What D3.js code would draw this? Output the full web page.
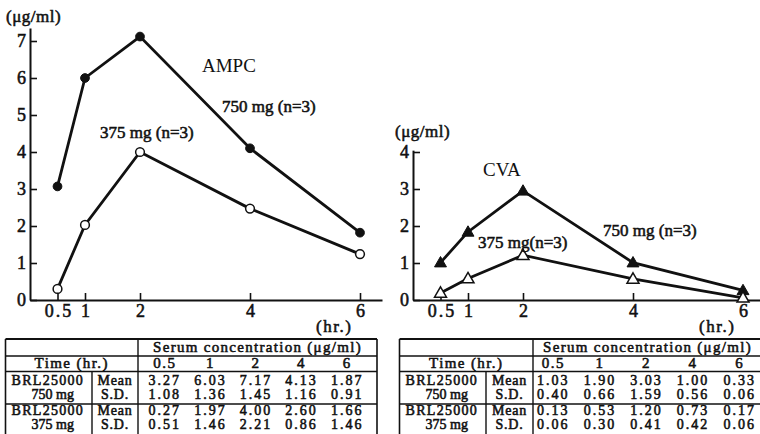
<!DOCTYPE html>
<html><head><meta charset="utf-8">
<script src="https://cdn.jsdelivr.net/npm/d3@7"></script>
<style>
body{margin:0;background:#fff;}
svg{display:block;}
text{font-family:"Liberation Serif","Times New Roman",serif;fill:#111;}
.b{stroke:#111;stroke-width:0.55px;}
</style></head>
<body>
<svg id="c" width="760" height="434"></svg>
<script>
// ---- data ----
const hours = [0.5, 1, 2, 4, 6];
const ampc750 = [3.07, 6.0, 7.12, 4.1, 1.82];
const ampc375 = [0.3, 2.03, 4.0, 2.47, 1.24];
const cva750 = [1.01, 1.84, 2.95, 1.01, 0.26];
const cva375 = [0.19, 0.58, 1.21, 0.57, 0.06];
const ampcTicks = [0, 1, 2, 3, 4, 5, 6, 7];
const cvaTicks = [0, 1, 2, 3, 4];
const timeLabels = ["0.5", "1", "2", "4", "6"];
// table values
const ampcMean750 = ["3.27", "6.03", "7.17", "4.13", "1.87"];
const ampcSD750 = ["1.08", "1.36", "1.45", "1.16", "0.91"];
const ampcMean375 = ["0.27", "1.97", "4.00", "2.60", "1.66"];
const ampcSD375 = ["0.51", "1.46", "2.21", "0.86", "1.46"];
const cvaMean750 = ["1.03", "1.90", "3.03", "1.00", "0.33"];
const cvaSD750 = ["0.40", "0.66", "1.59", "0.56", "0.06"];
const cvaMean375 = ["0.13", "0.53", "1.20", "0.73", "0.17"];
const cvaSD375 = ["0.06", "0.30", "0.41", "0.42", "0.06"];

const svg = d3.select("#c");

function chart(cfg) {
  const x = d3.scaleLinear().domain([0, 6.4]).range([cfg.x0, cfg.x0 + 55 * 6.4]);
  const y = d3.scaleLinear().domain([0, cfg.ymax]).range([300, 300 - 37 * cfg.ymax]);
  const g = svg.append("g");
  const ax = g.append("g").attr("transform", "translate(0,300)")
    .call(d3.axisBottom(x).tickValues(hours).tickFormat((d, i) => timeLabels[i]).tickSize(-7).tickSizeOuter(0).tickPadding(4));
  const ay = g.append("g").attr("transform", `translate(${cfg.x0},0)`)
    .call(d3.axisLeft(y).tickValues(cfg.ticks).tickFormat(d3.format("d")).tickSize(-7).tickSizeOuter(0).tickPadding(4));
  [ax, ay].forEach(a => {
    a.attr("font-family", null).attr("font-size", null);
    a.select(".domain").attr("stroke", "#111").attr("stroke-width", 2);
    a.selectAll(".tick line").attr("stroke", "#111").attr("stroke-width", 1.6);
    a.selectAll("text").attr("font-size", 18).attr("class", "b").attr("fill", "#111")
      .style("font-family", "'Liberation Serif',serif");
  });
  ax.selectAll("text").attr("letter-spacing", 2).attr("dx", 1);
  g.append("text").attr("class", "b").attr("x", cfg.unitX).attr("y", cfg.unitY).attr("font-size", 17).attr("letter-spacing", 0.5).text("(μg/ml)");
  g.append("text").attr("class", "b").attr("x", cfg.hrX).attr("y", 332).attr("font-size", 17).attr("letter-spacing", 1.5).text("(hr.)");
  const line = d3.line().x((d, i) => x(hours[i])).y(d => y(d));
  [cfg.hi, cfg.lo].forEach(s => {
    g.append("path").datum(s).attr("d", line).attr("fill", "none").attr("stroke", "#111").attr("stroke-width", 2.8);
  });
  const sym = cfg.symbol;
  const mk = (s, filled) => g.selectAll(null).data(s).enter().append("path")
    .attr("transform", (d, i) => `translate(${x(hours[i])},${y(d) + (sym === d3.symbolTriangle ? 0.8 : 0)})`)
    .attr("d", d3.symbol().type(sym).size(sym === d3.symbolTriangle ? 62 : 60))
    .attr("fill", filled ? "#111" : "#fff").attr("stroke", "#111").attr("stroke-width", filled ? 1 : 1.5);
  mk(cfg.hi, true);
  mk(cfg.lo, false);
  cfg.notes.forEach(n => g.append("text").attr("x", n[0]).attr("y", n[1]).attr("font-size", n[3])
    .attr("class", n[4] ? "b" : null).text(n[2]));
}

chart({x0: 30, ymax: 7.35, ticks: ampcTicks, hi: ampc750, lo: ampc375, symbol: d3.symbolCircle,
  unitX: 6, unitY: 22, hrX: 316,
  notes: [[202, 72, "AMPC", 19, false], [222, 112, "750 mg (n=3)", 17, true], [100, 138, "375 mg (n=3)", 17, true]]});
chart({x0: 413, ymax: 4.05, ticks: cvaTicks, hi: cva750, lo: cva375, symbol: d3.symbolTriangle,
  unitX: 395, unitY: 137, hrX: 699,
  notes: [[483, 176, "CVA", 19, false], [603, 236, "750 mg (n=3)", 17, true], [478, 248, "375 mg(n=3)", 17, true]]});

// ---- tables ----
function table(cfg) {
  const g = svg.append("g");
  const yTop = 339, yH1 = 356, yH2 = 371.5, yG1 = 404, yBot = 436;
  const col = d3.scaleBand().domain(timeLabels).range([cfg.d0, cfg.d1]);
  const ln = (x1, y1, x2, y2, w) => g.append("line").attr("x1", x1).attr("y1", y1).attr("x2", x2).attr("y2", y2)
    .attr("stroke", "#111").attr("stroke-width", w);
  ln(cfg.left, yTop, cfg.right, yTop, 2.2);
  ln(cfg.left, yH1, cfg.right, yH1, 1.4);
  ln(cfg.left, yH2, cfg.right, yH2, 1.4);
  ln(cfg.left, yG1, cfg.right, yG1, 1.6);
  ln(cfg.left, yBot, cfg.right, yBot, 1.6);
  ln(cfg.left, yTop, cfg.left, yBot, 1.6);
  ln(cfg.right, yTop, cfg.right, yBot, 1.6);
  ln(cfg.div2, yTop, cfg.div2, yBot, 1.4);
  ln(cfg.div1, yH2, cfg.div1, yBot, 1.4);
  const t = (x, y, s, anchor, size, ls) => g.append("text").attr("class", "b").attr("x", x).attr("y", y).attr("text-anchor", anchor)
    .attr("font-size", size).attr("letter-spacing", ls || 0).text(s);
  t((cfg.div2 + cfg.right) / 2, 352, "Serum concentration (μg/ml)", "middle", 15, 1.3);
  t((cfg.left + cfg.div2) / 2, 368, "Time (hr.)", "middle", 15, 1.4);
  timeLabels.forEach(h => t(col(h) + col.bandwidth() / 2, 368, h, "middle", 15, 1.5));
  const rowsY = [385, 399, 415, 429];
  [cfg.m750, cfg.s750, cfg.m375, cfg.s375].forEach((arr, r) => {
    arr.forEach((v, i) => t(col(timeLabels[i]) + col.bandwidth() / 2, rowsY[r], v, "middle", 14, 2));
    t((cfg.div1 + cfg.div2) / 2, rowsY[r], r % 2 === 0 ? "Mean" : "S.D.", "middle", 14, 0.8);
  });
  t(cfg.left + 6, rowsY[0], "BRL25000", "start", 14, 1.3);
  t((cfg.left + cfg.div1) / 2 + 4, rowsY[1], "750 mg", "middle", 14, 0);
  t(cfg.left + 6, rowsY[2], "BRL25000", "start", 14, 1.3);
  t((cfg.left + cfg.div1) / 2 + 4, rowsY[3], "375 mg", "middle", 14, 0);
}
table({left: 5.5, right: 377, div1: 92, div2: 138, d0: 142, d1: 370,
  m750: ampcMean750, s750: ampcSD750, m375: ampcMean375, s375: ampcSD375});
table({left: 399.5, right: 762, div1: 486, div2: 533, d0: 530, d1: 763,
  m750: cvaMean750, s750: cvaSD750, m375: cvaMean375, s375: cvaSD375});
</script>
</body></html>
